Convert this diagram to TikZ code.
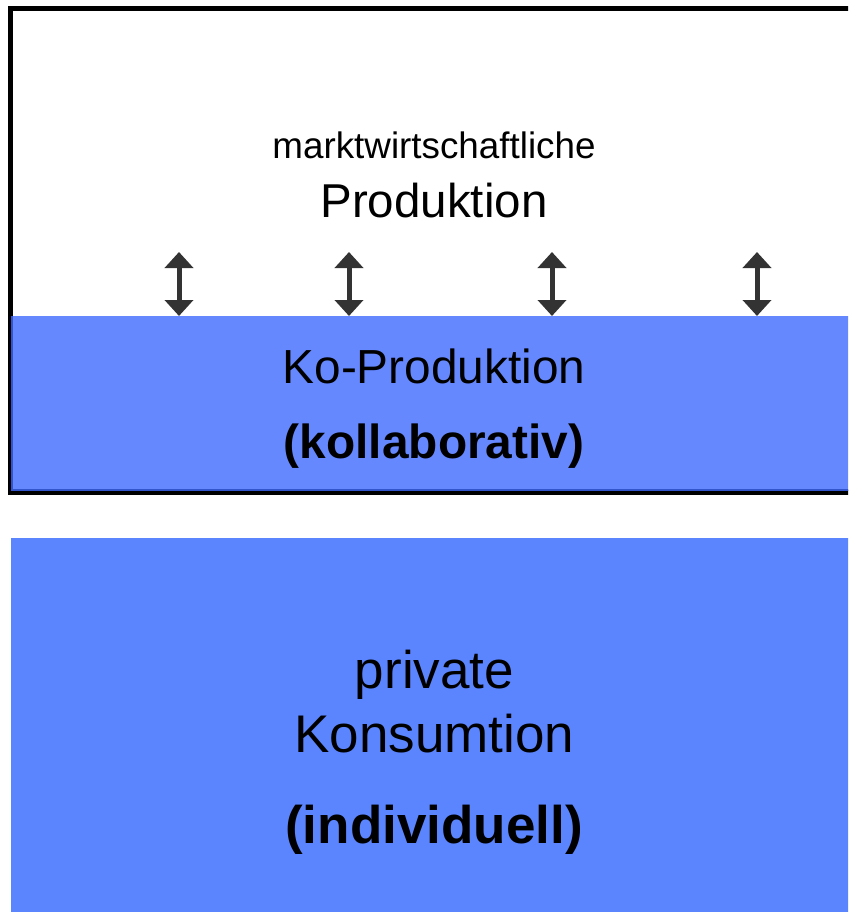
\documentclass[tikz,border=0pt]{standalone}
\usepackage{fontspec}
\setmainfont{Liberation Sans}
\usetikzlibrary{arrows.meta}
\definecolor{coblue}{RGB}{102,136,255}
\definecolor{coedge}{RGB}{51,85,204}
\definecolor{privblue}{RGB}{91,133,255}
\definecolor{arrowgray}{RGB}{51,51,51}
\tikzset{
  frame/.style={draw=black, line width=5pt},
  bluebox/.style={fill=coblue, draw=none, inner sep=0pt, outer sep=0pt},
  privbox/.style={fill=privblue, draw=none, inner sep=0pt, outer sep=0pt},
  label/.style={anchor=base, inner sep=0pt, text=black},
  link/.style={draw=arrowgray, line width=5pt,
    {Triangle[length=16pt,width=28pt]}-{Triangle[length=16pt,width=28pt]}}
}
\begin{document}
\begin{tikzpicture}[x=1pt,y=-1pt]
\useasboundingbox (0,0) rectangle (848,912);
\clip (0,0) rectangle (848,912);
% outer frame of the market production area
\draw[frame] (10.5,8.5) rectangle (880,492);
% co-production band
\node[bluebox, minimum width=869pt, minimum height=175pt] (kobox) at (445.5,403.5) {};
\draw[coedge, line width=2pt] (12,316) -- (12,490) -- (880,490);
% private consumption block
\node[privbox, minimum width=869pt, minimum height=380pt] (privbox) at (445.5,728) {};
% texts
\node[label, font=\fontsize{36.8}{40}\selectfont] (mw) at (434,159) {marktwirtschaftliche};
\node[label, font=\fontsize{47.5}{52}\selectfont] (prod) at (434,217) {Produktion};
\node[label, font=\fontsize{47.8}{52}\selectfont] (ko) at (434,383) {Ko-Produktion};
\node[label, font=\fontsize{47.8}{52}\selectfont\bfseries] (koll) at (434,458) {(kollaborativ)};
\node[label, font=\fontsize{53}{58}\selectfont] (priv) at (434.5,688) {private};
\node[label, font=\fontsize{53}{58}\selectfont] (kons) at (434.5,752) {Konsumtion};
\node[label, font=\fontsize{53}{58}\selectfont\bfseries] (indiv) at (434,843) {(individuell)};
% exchange arrows between market production and co-production
\foreach \i/\x in {1/179,2/349,3/552,4/757}{
  \coordinate (a\i) at (\x,252);
  \draw[link] (a\i) -- (kobox.north -| a\i);
}
\end{tikzpicture}
\end{document}
